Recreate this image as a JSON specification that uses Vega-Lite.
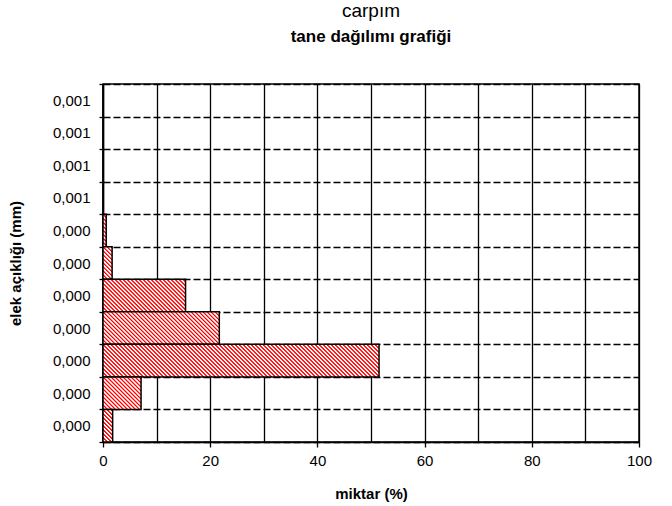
{
  "$schema": "https://vega.github.io/schema/vega-lite/v6.json",
  "width": 536,
  "height": 358,
  "autosize": {"type": "none"},
  "padding": {"left": 103, "top": 84, "right": 33, "bottom": 64},
  "background": "white",
  "params": [
    {"name": "hatch", "value": [
      {"offset":0,"color":"red"},{"offset":0.002,"color":"red"},{"offset":0.005,"color":"#fff"},{"offset":0.008,"color":"#fff"},
      {"offset":0.01,"color":"red"},{"offset":0.012,"color":"red"},{"offset":0.015,"color":"#fff"},{"offset":0.018,"color":"#fff"},
      {"offset":0.02,"color":"red"},{"offset":0.022,"color":"red"},{"offset":0.025,"color":"#fff"},{"offset":0.028,"color":"#fff"},
      {"offset":0.03,"color":"red"},{"offset":0.032,"color":"red"},{"offset":0.035,"color":"#fff"},{"offset":0.038,"color":"#fff"},
      {"offset":0.04,"color":"red"},{"offset":0.042,"color":"red"},{"offset":0.045,"color":"#fff"},{"offset":0.048,"color":"#fff"},
      {"offset":0.05,"color":"red"},{"offset":0.052,"color":"red"},{"offset":0.055,"color":"#fff"},{"offset":0.058,"color":"#fff"},
      {"offset":0.06,"color":"red"},{"offset":0.062,"color":"red"},{"offset":0.065,"color":"#fff"},{"offset":0.068,"color":"#fff"},
      {"offset":0.07,"color":"red"},{"offset":0.072,"color":"red"},{"offset":0.075,"color":"#fff"},{"offset":0.078,"color":"#fff"},
      {"offset":0.08,"color":"red"},{"offset":0.082,"color":"red"},{"offset":0.085,"color":"#fff"},{"offset":0.088,"color":"#fff"},
      {"offset":0.09,"color":"red"},{"offset":0.092,"color":"red"},{"offset":0.095,"color":"#fff"},{"offset":0.098,"color":"#fff"},
      {"offset":0.1,"color":"red"},{"offset":0.102,"color":"red"},{"offset":0.105,"color":"#fff"},{"offset":0.108,"color":"#fff"},
      {"offset":0.11,"color":"red"},{"offset":0.112,"color":"red"},{"offset":0.115,"color":"#fff"},{"offset":0.118,"color":"#fff"},
      {"offset":0.12,"color":"red"},{"offset":0.122,"color":"red"},{"offset":0.125,"color":"#fff"},{"offset":0.128,"color":"#fff"},
      {"offset":0.13,"color":"red"},{"offset":0.132,"color":"red"},{"offset":0.135,"color":"#fff"},{"offset":0.138,"color":"#fff"},
      {"offset":0.14,"color":"red"},{"offset":0.142,"color":"red"},{"offset":0.145,"color":"#fff"},{"offset":0.148,"color":"#fff"},
      {"offset":0.15,"color":"red"},{"offset":0.152,"color":"red"},{"offset":0.155,"color":"#fff"},{"offset":0.158,"color":"#fff"},
      {"offset":0.16,"color":"red"},{"offset":0.162,"color":"red"},{"offset":0.165,"color":"#fff"},{"offset":0.168,"color":"#fff"},
      {"offset":0.17,"color":"red"},{"offset":0.172,"color":"red"},{"offset":0.175,"color":"#fff"},{"offset":0.178,"color":"#fff"},
      {"offset":0.18,"color":"red"},{"offset":0.182,"color":"red"},{"offset":0.185,"color":"#fff"},{"offset":0.188,"color":"#fff"},
      {"offset":0.19,"color":"red"},{"offset":0.192,"color":"red"},{"offset":0.195,"color":"#fff"},{"offset":0.198,"color":"#fff"},
      {"offset":0.2,"color":"red"},{"offset":0.202,"color":"red"},{"offset":0.205,"color":"#fff"},{"offset":0.208,"color":"#fff"},
      {"offset":0.21,"color":"red"},{"offset":0.212,"color":"red"},{"offset":0.215,"color":"#fff"},{"offset":0.218,"color":"#fff"},
      {"offset":0.22,"color":"red"},{"offset":0.222,"color":"red"},{"offset":0.225,"color":"#fff"},{"offset":0.228,"color":"#fff"},
      {"offset":0.23,"color":"red"},{"offset":0.232,"color":"red"},{"offset":0.235,"color":"#fff"},{"offset":0.238,"color":"#fff"},
      {"offset":0.24,"color":"red"},{"offset":0.242,"color":"red"},{"offset":0.245,"color":"#fff"},{"offset":0.248,"color":"#fff"},
      {"offset":0.25,"color":"red"},{"offset":0.252,"color":"red"},{"offset":0.255,"color":"#fff"},{"offset":0.258,"color":"#fff"},
      {"offset":0.26,"color":"red"},{"offset":0.262,"color":"red"},{"offset":0.265,"color":"#fff"},{"offset":0.268,"color":"#fff"},
      {"offset":0.27,"color":"red"},{"offset":0.272,"color":"red"},{"offset":0.275,"color":"#fff"},{"offset":0.278,"color":"#fff"},
      {"offset":0.28,"color":"red"},{"offset":0.282,"color":"red"},{"offset":0.285,"color":"#fff"},{"offset":0.288,"color":"#fff"},
      {"offset":0.29,"color":"red"},{"offset":0.292,"color":"red"},{"offset":0.295,"color":"#fff"},{"offset":0.298,"color":"#fff"},
      {"offset":0.3,"color":"red"},{"offset":0.302,"color":"red"},{"offset":0.305,"color":"#fff"},{"offset":0.308,"color":"#fff"},
      {"offset":0.31,"color":"red"},{"offset":0.312,"color":"red"},{"offset":0.315,"color":"#fff"},{"offset":0.318,"color":"#fff"},
      {"offset":0.32,"color":"red"},{"offset":0.322,"color":"red"},{"offset":0.325,"color":"#fff"},{"offset":0.328,"color":"#fff"},
      {"offset":0.33,"color":"red"},{"offset":0.332,"color":"red"},{"offset":0.335,"color":"#fff"},{"offset":0.338,"color":"#fff"},
      {"offset":0.34,"color":"red"},{"offset":0.342,"color":"red"},{"offset":0.345,"color":"#fff"},{"offset":0.348,"color":"#fff"},
      {"offset":0.35,"color":"red"},{"offset":0.352,"color":"red"},{"offset":0.355,"color":"#fff"},{"offset":0.358,"color":"#fff"},
      {"offset":0.36,"color":"red"},{"offset":0.362,"color":"red"},{"offset":0.365,"color":"#fff"},{"offset":0.368,"color":"#fff"},
      {"offset":0.37,"color":"red"},{"offset":0.372,"color":"red"},{"offset":0.375,"color":"#fff"},{"offset":0.378,"color":"#fff"},
      {"offset":0.38,"color":"red"},{"offset":0.382,"color":"red"},{"offset":0.385,"color":"#fff"},{"offset":0.388,"color":"#fff"},
      {"offset":0.39,"color":"red"},{"offset":0.392,"color":"red"},{"offset":0.395,"color":"#fff"},{"offset":0.398,"color":"#fff"},
      {"offset":0.4,"color":"red"},{"offset":0.402,"color":"red"},{"offset":0.405,"color":"#fff"},{"offset":0.408,"color":"#fff"},
      {"offset":0.41,"color":"red"},{"offset":0.412,"color":"red"},{"offset":0.415,"color":"#fff"},{"offset":0.418,"color":"#fff"},
      {"offset":0.42,"color":"red"},{"offset":0.422,"color":"red"},{"offset":0.425,"color":"#fff"},{"offset":0.428,"color":"#fff"},
      {"offset":0.43,"color":"red"},{"offset":0.432,"color":"red"},{"offset":0.435,"color":"#fff"},{"offset":0.438,"color":"#fff"},
      {"offset":0.44,"color":"red"},{"offset":0.442,"color":"red"},{"offset":0.445,"color":"#fff"},{"offset":0.448,"color":"#fff"},
      {"offset":0.45,"color":"red"},{"offset":0.452,"color":"red"},{"offset":0.455,"color":"#fff"},{"offset":0.458,"color":"#fff"},
      {"offset":0.46,"color":"red"},{"offset":0.462,"color":"red"},{"offset":0.465,"color":"#fff"},{"offset":0.468,"color":"#fff"},
      {"offset":0.47,"color":"red"},{"offset":0.472,"color":"red"},{"offset":0.475,"color":"#fff"},{"offset":0.478,"color":"#fff"},
      {"offset":0.48,"color":"red"},{"offset":0.482,"color":"red"},{"offset":0.485,"color":"#fff"},{"offset":0.488,"color":"#fff"},
      {"offset":0.49,"color":"red"},{"offset":0.492,"color":"red"},{"offset":0.495,"color":"#fff"},{"offset":0.498,"color":"#fff"},
      {"offset":0.5,"color":"red"},{"offset":0.502,"color":"red"},{"offset":0.505,"color":"#fff"},{"offset":0.508,"color":"#fff"},
      {"offset":0.51,"color":"red"},{"offset":0.512,"color":"red"},{"offset":0.515,"color":"#fff"},{"offset":0.518,"color":"#fff"},
      {"offset":0.52,"color":"red"},{"offset":0.522,"color":"red"},{"offset":0.525,"color":"#fff"},{"offset":0.528,"color":"#fff"},
      {"offset":0.53,"color":"red"},{"offset":0.532,"color":"red"},{"offset":0.535,"color":"#fff"},{"offset":0.538,"color":"#fff"},
      {"offset":0.54,"color":"red"},{"offset":0.542,"color":"red"},{"offset":0.545,"color":"#fff"},{"offset":0.548,"color":"#fff"},
      {"offset":0.55,"color":"red"},{"offset":0.552,"color":"red"},{"offset":0.555,"color":"#fff"},{"offset":0.558,"color":"#fff"},
      {"offset":0.56,"color":"red"},{"offset":0.562,"color":"red"},{"offset":0.565,"color":"#fff"},{"offset":0.568,"color":"#fff"},
      {"offset":0.57,"color":"red"},{"offset":0.572,"color":"red"},{"offset":0.575,"color":"#fff"},{"offset":0.578,"color":"#fff"},
      {"offset":0.58,"color":"red"},{"offset":0.582,"color":"red"},{"offset":0.585,"color":"#fff"},{"offset":0.588,"color":"#fff"},
      {"offset":0.59,"color":"red"},{"offset":0.592,"color":"red"},{"offset":0.595,"color":"#fff"},{"offset":0.598,"color":"#fff"},
      {"offset":0.6,"color":"red"},{"offset":0.602,"color":"red"},{"offset":0.605,"color":"#fff"},{"offset":0.608,"color":"#fff"},
      {"offset":0.61,"color":"red"},{"offset":0.612,"color":"red"},{"offset":0.615,"color":"#fff"},{"offset":0.618,"color":"#fff"},
      {"offset":0.62,"color":"red"},{"offset":0.622,"color":"red"},{"offset":0.625,"color":"#fff"},{"offset":0.628,"color":"#fff"},
      {"offset":0.63,"color":"red"},{"offset":0.632,"color":"red"},{"offset":0.635,"color":"#fff"},{"offset":0.638,"color":"#fff"},
      {"offset":0.64,"color":"red"},{"offset":0.642,"color":"red"},{"offset":0.645,"color":"#fff"},{"offset":0.648,"color":"#fff"},
      {"offset":0.65,"color":"red"},{"offset":0.652,"color":"red"},{"offset":0.655,"color":"#fff"},{"offset":0.658,"color":"#fff"},
      {"offset":0.66,"color":"red"},{"offset":0.662,"color":"red"},{"offset":0.665,"color":"#fff"},{"offset":0.668,"color":"#fff"},
      {"offset":0.67,"color":"red"},{"offset":0.672,"color":"red"},{"offset":0.675,"color":"#fff"},{"offset":0.678,"color":"#fff"},
      {"offset":0.68,"color":"red"},{"offset":0.682,"color":"red"},{"offset":0.685,"color":"#fff"},{"offset":0.688,"color":"#fff"},
      {"offset":0.69,"color":"red"},{"offset":0.692,"color":"red"},{"offset":0.695,"color":"#fff"},{"offset":0.698,"color":"#fff"},
      {"offset":0.7,"color":"red"},{"offset":0.702,"color":"red"},{"offset":0.705,"color":"#fff"},{"offset":0.708,"color":"#fff"},
      {"offset":0.71,"color":"red"},{"offset":0.712,"color":"red"},{"offset":0.715,"color":"#fff"},{"offset":0.718,"color":"#fff"},
      {"offset":0.72,"color":"red"},{"offset":0.722,"color":"red"},{"offset":0.725,"color":"#fff"},{"offset":0.728,"color":"#fff"},
      {"offset":0.73,"color":"red"},{"offset":0.732,"color":"red"},{"offset":0.735,"color":"#fff"},{"offset":0.738,"color":"#fff"},
      {"offset":0.74,"color":"red"},{"offset":0.742,"color":"red"},{"offset":0.745,"color":"#fff"},{"offset":0.748,"color":"#fff"},
      {"offset":0.75,"color":"red"},{"offset":0.752,"color":"red"},{"offset":0.755,"color":"#fff"},{"offset":0.758,"color":"#fff"},
      {"offset":0.76,"color":"red"},{"offset":0.762,"color":"red"},{"offset":0.765,"color":"#fff"},{"offset":0.768,"color":"#fff"},
      {"offset":0.77,"color":"red"},{"offset":0.772,"color":"red"},{"offset":0.775,"color":"#fff"},{"offset":0.778,"color":"#fff"},
      {"offset":0.78,"color":"red"},{"offset":0.782,"color":"red"},{"offset":0.785,"color":"#fff"},{"offset":0.788,"color":"#fff"},
      {"offset":0.79,"color":"red"}
    ]}
  ],
  "title": {
    "text": "\u00a0\u00a0\u00a0\u00a0\u00a0\u00a0\u00a0\u00a0\u00a0\u00a0\u00a0\u00a0\u00a0\u00a0\u00a0\u00a0\u00a0\u00a0\u00a0\u00a0\u00a0\u00a0\u00a0\u00a0\u00a0\u00a0\u00a0\u00a0\u00a0\u00a0\u00a0\u00a0\u00a0\u00a0\u00a0\u00a0\u00a0\u00a0\u00a0\u00a0\u00a0\u00a0\u00a0\u00a0\u00a0\u00a0\u00a0\u00a0\u00a0\u00a0\u00a0\u00a0\u00a0\u00a0\u00a0\u00a0\u00a0\u00a0carpım",
    "subtitle": "tane dağılımı grafiği",
    "anchor": "middle",
    "frame": "group",
    "font": "Liberation Sans",
    "fontSize": 19,
    "fontWeight": "normal",
    "color": "black",
    "subtitleFont": "Liberation Sans",
    "subtitleFontSize": 17,
    "subtitleFontWeight": "bold",
    "subtitleColor": "black",
    "subtitlePadding": 8,
    "offset": 32
  },
  "data": {"values": [
    {"no": 1, "elek": "0,001", "miktar": 0},
    {"no": 2, "elek": "0,001", "miktar": 0},
    {"no": 3, "elek": "0,001", "miktar": 0},
    {"no": 4, "elek": "0,001", "miktar": 0},
    {"no": 5, "elek": "0,000", "miktar": 0.6},
    {"no": 6, "elek": "0,000", "miktar": 1.7},
    {"no": 7, "elek": "0,000", "miktar": 15.4},
    {"no": 8, "elek": "0,000", "miktar": 21.7},
    {"no": 9, "elek": "0,000", "miktar": 51.5},
    {"no": 10, "elek": "0,000", "miktar": 7.1},
    {"no": 11, "elek": "0,000", "miktar": 1.8}
  ]},
  "mark": {
    "type": "bar",
    "stroke": "black",
    "strokeWidth": 1.5,
    "fill": {"expr": "{gradient: 'linear', x1: 0, y1: 1, x2: 400 * scale('x', datum.miktar) / (pow(scale('x', datum.miktar), 2) + pow(bandwidth('y'), 2)), y2: 1 - 400 * bandwidth('y') / (pow(scale('x', datum.miktar), 2) + pow(bandwidth('y'), 2)), stops: hatch}"}
  },
  "encoding": {
    "y": {
      "field": "no",
      "type": "ordinal",
      "scale": {"paddingInner": 0, "paddingOuter": 0},
      "axis": {
        "title": "elek açıklığı (mm)",
        "titlePadding": 29,
        "labelExpr": "['0,001','0,001','0,001','0,001','0,000','0,000','0,000','0,000','0,000','0,000','0,000'][datum.value - 1]",
        "labelPadding": 9,
        "tickBand": "extent",
        "tickSize": 4,
        "grid": true,
        "gridDash": [7, 3]
      }
    },
    "x": {
      "field": "miktar",
      "type": "quantitative",
      "scale": {"domain": [0, 100], "nice": false},
      "axis": {
        "title": "miktar (%)",
        "titlePadding": 18,
        "values": [0, 10, 20, 30, 40, 50, 60, 70, 80, 90, 100],
        "labelExpr": "datum.value % 20 === 0 ? datum.label : ''",
        "labelFlush": false,
        "tickOpacity": {"condition": {"test": "datum.value % 20 === 0", "value": 1}, "value": 0},
        "tickSize": 5,
        "labelPadding": 6,
        "grid": true
      }
    }
  },
  "config": {
    "view": {"stroke": "black", "strokeWidth": 1.5},
    "axis": {
      "labelFont": "Liberation Sans",
      "labelFontSize": 15,
      "labelColor": "black",
      "titleFont": "Liberation Sans",
      "titleFontSize": 15,
      "titleFontWeight": "bold",
      "titleColor": "black",
      "domainColor": "black",
      "domainWidth": 1.5,
      "tickColor": "black",
      "tickWidth": 1.3,
      "gridColor": "black",
      "gridOpacity": 1,
      "gridWidth": 1.3
    }
  }
}
